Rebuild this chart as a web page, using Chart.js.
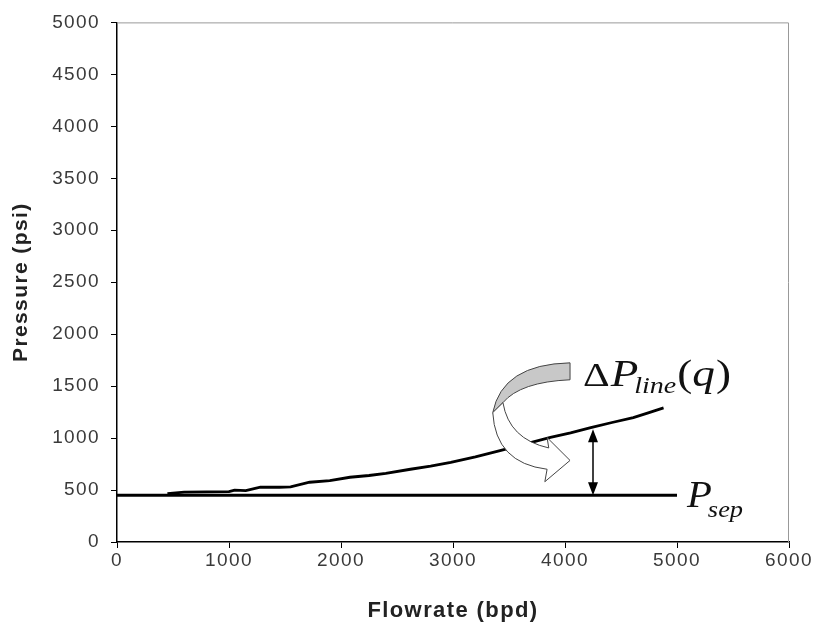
<!DOCTYPE html>
<html>
<head>
<meta charset="utf-8">
<script src="https://cdn.jsdelivr.net/npm/chart.js@4.4.1/dist/chart.umd.min.js"></script>
<style>
  html, body { margin: 0; padding: 0; background: #fff; }
  #wrap { width: 816px; height: 626px; }
</style>
</head>
<body>
<div id="wrap"><canvas id="chart" width="816" height="626"></canvas></div>
<script>
// data
const flowrate = [450, 600, 800, 1000, 1050, 1150, 1280, 1450, 1550, 1720, 1900, 2080, 2250, 2400, 2620, 2800, 2980, 3200, 3420, 3650, 3870, 4050, 4230, 4420, 4610, 4750, 4880];
const linePressure = [465, 480, 482, 485, 500, 495, 527, 527, 530, 575, 590, 623, 640, 661, 700, 730, 766, 820, 880, 945, 1006, 1050, 1100, 1150, 1197, 1245, 1290];
const sepFlow = [0, 5000];
const sepPressure = [450, 450];
const xTicks = [0, 1000, 2000, 3000, 4000, 5000, 6000];
const yTicks = [0, 500, 1000, 1500, 2000, 2500, 3000, 3500, 4000, 4500, 5000];

const arrowFlow = 4250;       // double-headed arrow position
const arrowTop = 1085;

Chart.defaults.font.family = "Arial, 'Liberation Sans', sans-serif";
Chart.defaults.color = '#333';

// the source text is a bit wide, so space the letters out
const spacing = {
    id: 'spacing',
    beforeDraw(chart) { chart.ctx.letterSpacing = '1.4px'; }
};

function stretchText(ctx, text, x, y, font, sx) {
    ctx.save();
    ctx.font = font;
    ctx.translate(x, y);
    ctx.scale(sx, 1);
    ctx.fillText(text, 0, 0);
    const w = ctx.measureText(text).width * sx;
    ctx.restore();
    return w;
}

// curved arrow + labels
const annotations = {
    id: 'annotations',
    afterDatasetsDraw(chart) {
        const ctx = chart.ctx;
        const xs = chart.scales.x, ys = chart.scales.y;
        const X = v => xs.getPixelForValue(v);
        const Y = v => ys.getPixelForValue(v);
        ctx.save();
        ctx.letterSpacing = '0px';

        // double arrow between curve and separator line
        const ax = X(arrowFlow), a1 = Y(arrowTop), a2 = Y(sepPressure[0]);
        ctx.strokeStyle = '#000';
        ctx.fillStyle = '#000';
        ctx.lineWidth = 1.5;
        ctx.beginPath();
        ctx.moveTo(ax, a1 + 8);
        ctx.lineTo(ax, a2 - 8);
        ctx.stroke();
        ctx.beginPath();
        ctx.moveTo(ax, a1); ctx.lineTo(ax - 5, a1 + 13); ctx.lineTo(ax + 5, a1 + 13); ctx.closePath();
        ctx.fill();
        ctx.beginPath();
        ctx.moveTo(ax, a2); ctx.lineTo(ax - 5, a2 - 13); ctx.lineTo(ax + 5, a2 - 13); ctx.closePath();
        ctx.fill();

        // ribbon arrow: grey back part
        ctx.lineWidth = 1;
        ctx.strokeStyle = '#444';
        ctx.fillStyle = '#c8c8c8';
        ctx.beginPath();
        ctx.moveTo(X(4045), Y(1724));
        ctx.quadraticCurveTo(X(3440), Y(1710), X(3355), Y(1245));
        ctx.lineTo(X(3446), Y(1341));
        ctx.quadraticCurveTo(X(3600), Y(1540), X(4045), Y(1561));
        ctx.closePath();
        ctx.fill();
        ctx.stroke();

        // white front part with open head
        ctx.fillStyle = '#fff';
        ctx.beginPath();
        ctx.moveTo(X(3355), Y(1245));
        ctx.quadraticCurveTo(X(3380), Y(760), X(3840), Y(700));
        ctx.lineTo(X(3820), Y(580));
        ctx.lineTo(X(4045), Y(785));
        ctx.lineTo(X(3840), Y(1005));
        ctx.lineTo(X(3855), Y(905));
        ctx.quadraticCurveTo(X(3500), Y(990), X(3446), Y(1341));
        ctx.closePath();
        ctx.fill();
        ctx.stroke();

        // labels
        ctx.fillStyle = '#111';
        ctx.textBaseline = 'alphabetic';
        const sx = 1.22;
        const serif = "'Times New Roman', 'Liberation Serif', serif";
        let tx = 583, ty = 386;
        tx += stretchText(ctx, '\u0394', tx, ty, '34px ' + serif, sx) + 1;
        tx += stretchText(ctx, 'P', tx, ty, 'italic 37px ' + serif, sx) - 4;
        tx += stretchText(ctx, 'line', tx, ty + 7, 'italic 23px ' + serif, sx) + 1;
        tx += stretchText(ctx, '(', tx, ty, '37px ' + serif, sx);
        tx += stretchText(ctx, 'q', tx, ty, 'italic 37px ' + serif, sx) + 1;
        stretchText(ctx, ')', tx, ty, '37px ' + serif, sx);

        tx = 687; ty = 507;
        tx += stretchText(ctx, 'P', tx, ty, 'italic 37px ' + serif, 1.1) - 4;
        stretchText(ctx, 'sep', tx, ty + 10, 'italic 24px ' + serif, 1.1);

        // gray top/right frame
        const ca = chart.chartArea;
        ctx.strokeStyle = '#999';
        ctx.lineWidth = 1;
        ctx.beginPath();
        ctx.moveTo(ca.left, ca.top + 0.5);
        ctx.lineTo(ca.right - 0.5, ca.top + 0.5);
        ctx.lineTo(ca.right - 0.5, ca.bottom);
        ctx.stroke();
        ctx.restore();
    }
};

new Chart(document.getElementById('chart'), {
    type: 'scatter',
    data: {
        datasets: [{
            data: flowrate.map((q, i) => ({ x: q, y: linePressure[i] })),
            showLine: true,
            borderColor: '#000',
            borderWidth: 2.8,
            pointRadius: 0,
            tension: 0
        }, {
            data: sepFlow.map((q, i) => ({ x: q, y: sepPressure[i] })),
            showLine: true,
            borderColor: '#000',
            borderWidth: 3,
            pointRadius: 0
        }]
    },
    options: {
        responsive: false,
        animation: false,
        layout: { padding: { top: 18, right: 27, left: 0, bottom: 0 } },
        plugins: { legend: { display: false }, tooltip: { enabled: false } },
        scales: {
            x: {
                type: 'linear', min: 0, max: 6000,
                afterBuildTicks: s => { s.ticks = xTicks.map(v => ({ value: v })); },
                afterFit: s => { s.height = 84; },
                grid: { drawOnChartArea: false, drawTicks: true, tickLength: 6, color: '#000' },
                border: { color: '#000', width: 1.5 },
                ticks: { font: { size: 19 }, padding: 1, color: '#3a3a3a', callback: v => String(v) },
                title: { display: true, text: 'Flowrate (bpd)', font: { size: 22, weight: 'bold' }, color: '#222', padding: { top: 0, bottom: 2 } }
            },
            y: {
                type: 'linear', min: 0, max: 5000,
                afterBuildTicks: s => { s.ticks = yTicks.map(v => ({ value: v })); },
                afterFit: s => { s.width = 117; },
                grid: { drawOnChartArea: false, drawTicks: true, tickLength: 6, color: '#000' },
                border: { color: '#000', width: 1.5 },
                ticks: { font: { size: 19 }, padding: 11, color: '#3a3a3a', callback: v => String(v) },
                title: { display: true, text: 'Pressure (psi)', font: { size: 21, weight: 'bold' }, color: '#222', padding: { top: 9, bottom: 0 } }
            }
        }
    },
    plugins: [spacing, annotations]
});
</script>
</body>
</html>
